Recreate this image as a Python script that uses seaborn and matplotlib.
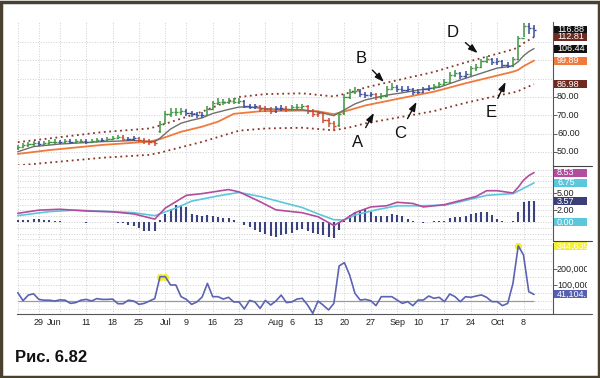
import numpy as np
import pandas as pd
import matplotlib
matplotlib.use("Agg")
import matplotlib.pyplot as plt
import matplotlib.transforms as mtransforms
from matplotlib.patches import Rectangle
from matplotlib.lines import Line2D
import seaborn as sns

# trading days on the chart
holidays = ["2007-05-28", "2007-07-04", "2007-09-03"]
days = pd.bdate_range("2007-05-22", "2007-10-10")
days = days[~days.isin(pd.to_datetime(holidays))]

# price bars
opens = [52.0, 52.8, 53.5, 54.2, 54.9, 54.3, 54.8, 55.2, 55.6, 55.2,
         55.8, 55.4, 55.9, 56.1, 55.5, 56.2, 56.6, 56.3, 57.0, 57.6,
         58.2, 57.2, 57.0, 57.4, 56.6, 55.8, 55.2, 61.5, 66.0, 70.5,
         72.0, 71.6, 72.4, 71.4, 70.8, 70.3, 70.0, 73.6, 76.5, 77.4,
         77.0, 77.8, 77.5, 77.8, 75.2, 74.6, 74.9, 73.2, 73.6, 72.4,
         73.8, 74.2, 73.4, 74.5, 74.8, 75.0, 72.2, 70.6, 71.0, 67.2,
         65.6, 64.5, 71.0, 80.0, 82.8, 83.5, 81.6, 81.0, 81.6, 79.9,
         80.6, 84.6, 85.6, 84.5, 84.0, 84.4, 82.6, 83.0, 84.1, 85.0,
         85.8, 87.1, 88.2, 92.0, 93.0, 91.4, 92.4, 95.6, 96.6, 99.6,
         100.5, 99.0, 99.6, 97.6, 97.2, 101.0, 112.0, 119.0, 117.5]
highs = [54.0, 54.6, 55.4, 56.0, 55.8, 55.9, 56.4, 56.8, 56.5, 56.9,
         56.8, 57.0, 57.3, 57.1, 57.3, 57.8, 57.6, 58.2, 58.9, 59.5,
         59.0, 58.4, 58.6, 58.2, 57.4, 56.8, 56.6, 67.0, 72.2, 74.0,
         73.8, 74.2, 73.6, 72.6, 72.0, 71.8, 75.0, 78.0, 79.2, 78.8,
         79.4, 79.4, 79.6, 78.4, 76.4, 76.2, 75.6, 75.0, 74.4, 75.2,
         75.6, 75.2, 75.8, 76.2, 76.4, 75.6, 73.2, 72.6, 71.6, 68.4,
         67.0, 71.8, 81.4, 84.6, 85.2, 84.4, 82.8, 83.0, 82.4, 82.4,
         85.8, 87.4, 86.6, 85.8, 85.9, 85.0, 84.4, 85.4, 86.4, 87.2,
         88.4, 89.8, 93.4, 94.6, 93.8, 94.0, 97.0, 98.2, 101.0, 102.2,
         101.4, 101.2, 100.4, 99.0, 102.0, 113.4, 120.4, 120.4, 119.6]
lows = [51.0, 52.0, 52.8, 53.4, 53.2, 53.6, 54.0, 54.4, 54.2, 54.5,
        54.3, 54.6, 55.0, 54.5, 54.8, 55.4, 55.2, 55.6, 56.3, 56.9,
        56.2, 55.8, 56.0, 55.4, 54.4, 53.6, 53.0, 60.5, 65.2, 69.2,
        69.8, 70.2, 69.8, 69.2, 68.6, 68.4, 69.4, 72.8, 75.6, 75.6,
        76.0, 76.0, 76.2, 73.8, 73.2, 73.2, 71.6, 71.8, 70.6, 71.4,
        72.6, 71.8, 72.4, 73.4, 73.6, 70.8, 68.8, 69.2, 65.6, 63.6,
        61.2, 63.8, 70.4, 79.0, 81.4, 80.2, 79.6, 79.8, 78.2, 78.8,
        79.8, 83.6, 83.0, 82.6, 82.8, 81.2, 81.4, 82.2, 83.2, 84.0,
        84.8, 86.2, 87.4, 90.8, 89.8, 90.2, 91.6, 94.4, 95.6, 98.4,
        97.4, 97.6, 96.0, 95.6, 96.4, 100.0, 113.0, 114.6, 112.8]
closes = [52.8, 53.6, 54.3, 54.9, 54.3, 54.8, 55.3, 55.6, 55.2, 55.8,
          55.4, 55.9, 56.1, 55.5, 56.2, 56.6, 56.3, 57.0, 57.6, 58.2,
          57.2, 57.0, 57.4, 56.6, 55.8, 55.2, 54.9, 65.5, 70.5, 72.0,
          71.6, 72.4, 71.4, 70.8, 70.3, 70.0, 73.6, 76.5, 77.4, 77.0,
          77.8, 77.5, 77.8, 75.2, 74.6, 74.9, 73.2, 73.6, 72.4, 73.8,
          74.2, 73.4, 74.5, 74.8, 75.0, 72.2, 70.6, 71.0, 67.2, 65.6,
          64.2, 70.6, 80.0, 82.8, 83.5, 81.6, 81.0, 81.6, 79.9, 80.6,
          84.6, 85.6, 84.5, 84.0, 84.4, 82.6, 83.0, 84.1, 85.0, 85.8,
          87.1, 88.2, 92.0, 93.0, 91.4, 92.4, 95.6, 96.6, 99.6, 100.5,
          99.0, 99.6, 97.6, 97.2, 100.6, 112.0, 119.0, 117.5, 116.88]
bar_kind = ("ggggbgggbg" "bggbggbggg" "rbbrrrrggg" "ggbbbbgggg" "gggbbbrrrb"
            "brgggrrrrr" "rggggbbbrg" "ggbbbbbbbg" "ggggbbgggg" "bbbbgggbb")

# moving averages and envelope, read at sample days
fast_idx = [0, 3, 8, 16, 22, 26, 27, 29, 31, 33, 35, 37, 40, 42, 44, 47, 50, 54, 57,
            60, 62, 64, 66, 70, 73, 76, 80, 84, 88, 91, 93, 94, 95, 96, 97, 98]
fast_ema = [50.1, 52.9, 54.3, 55.6, 56.2, 55.6, 57.5, 62.5, 65.7, 67.3, 68.6, 71.0,
            73.2, 74.5, 74.6, 73.6, 73.2, 73.0, 71.8, 69.8, 73.0, 76.2, 78.4, 81.0,
            82.3, 83.8, 85.3, 89.3, 93.0, 95.8, 96.5, 97.2, 99.3, 102.5, 104.8, 106.44]
slow_idx = [0, 6, 16, 25, 27, 31, 35, 38, 41, 46, 54, 57, 60, 63, 66, 73, 79, 85,
            92, 94, 95, 96, 98]
slow_ema = [48.9, 51.0, 53.8, 55.6, 57.0, 61.0, 63.8, 66.5, 70.8, 72.2, 72.6, 72.2,
            70.6, 72.9, 75.4, 79.5, 82.9, 87.5, 92.4, 93.8, 94.8, 96.8, 99.89]
env_idx = [0, 16, 25, 27, 35, 42, 47, 54, 60, 63, 66, 73, 79, 85, 92, 94, 95, 96, 98]
env_upper = [55.3, 60.8, 62.8, 64.4, 72.0, 80.0, 81.6, 82.0, 80.3, 82.4, 85.2, 89.8,
             93.7, 98.9, 104.4, 106.0, 107.1, 109.4, 112.81]
env_lower = [42.6, 46.8, 48.4, 49.6, 55.5, 61.6, 62.8, 63.2, 61.8, 63.4, 65.6, 69.2,
             72.3, 76.8, 81.3, 82.4, 83.2, 84.6, 86.98]

# MACD
macd_idx = [0, 4, 8, 13, 18, 22, 26, 28, 32, 35, 40, 42, 46, 49, 54, 57, 60, 62,
            64, 67, 70, 72, 75, 77, 81, 84, 87, 89, 91, 94, 95, 96, 97, 98]
macd_line = [1.5, 2.05, 2.2, 1.9, 1.75, 1.4, 0.5, 2.4, 4.6, 4.9, 5.6, 5.2, 3.5, 2.1,
             1.6, 0.9, -0.6, 0.4, 1.6, 2.6, 2.8, 3.4, 3.2, 2.6, 3.0, 3.7, 4.4, 5.4,
             5.4, 5.0, 6.0, 7.2, 8.0, 8.53]
signal_idx = [0, 6, 11, 18, 22, 26, 30, 33, 38, 42, 46, 51, 54, 57, 60, 62, 64, 68,
              72, 76, 81, 84, 89, 94, 96, 98]
signal_line = [1.1, 1.8, 2.05, 1.8, 1.6, 1.1, 2.4, 3.6, 4.5, 5.1, 4.4, 3.2, 2.5, 1.4,
               0.4, 0.35, 1.2, 2.1, 2.8, 2.8, 2.9, 3.5, 4.6, 4.9, 5.8, 6.75]
macd_hist = [0.3, 0.3, 0.4, 0.6, 0.5, 0.4, 0.3, 0.2, 0.1, 0.05,
             -0.05, 0.05, -0.05, -0.1, -0.05, 0.05, 0.05, 0.05, 0.0, -0.1,
             -0.2, -0.45, -0.75, -1.1, -1.5, -1.5, -1.5, 0.3, 1.45, 2.3,
             2.9, 2.9, 2.6, 1.45, 1.15, 1.0, 1.25, 1.0, 0.9, 0.75,
             0.75, 0.3, 0.0, -0.5, -0.9, -1.3, -1.7, -2.1, -2.4, -2.6,
             -2.2, -2.0, -1.9, -1.4, -1.2, -1.6, -1.9, -2.1, -2.3, -2.6,
             -2.8, -1.4, 0.2, 1.2, 1.8, 2.0, 2.2, 1.8, 1.0, 1.0,
             1.1, 1.3, 1.2, 1.0, 0.6, 0.1, -0.05, -0.25, 0.05, 0.1,
             0.1, 0.2, 0.7, 0.8, 0.9, 1.1, 1.3, 1.6, 1.8, 1.7,
             1.2, 0.5, 0.1, 0.05, 0.1, 1.7, 3.4, 3.57, 3.57]

# force index, thousands
force = [52, 2, 37, 45, 10, 5, 5, 0, 7, 5,
         -15, -10, 5, 10, 0, 15, 10, 10, 12, -17,
         -17, 5, 0, -21, -15, 0, 15, 152, 152, 100,
         100, 27, 10, -21, -6, 25, 110, 27, 27, 12,
         23, -6, -6, -50, 4, -6, -46, 4, -25, 0,
         37, -10, -6, 12, 17, -25, -77, 0, -27, -56,
         -15, 219, 240, 162, 48, 6, 10, 2, -29, 27,
         27, 27, 6, -15, -4, -29, 6, 6, 31, 17,
         23, -4, 44, 27, -4, 27, 23, 31, 38, 23,
         -4, -4, -29, -15, 110, 344.639, 288, 58, 41.104]
force_marks = [27, 28, 95]

tick_dates = ["2007-05-29", "2007-06-01", "2007-06-11", "2007-06-18", "2007-06-25",
              "2007-07-02", "2007-07-09", "2007-07-16", "2007-07-23", "2007-08-01",
              "2007-08-06", "2007-08-13", "2007-08-20", "2007-08-27", "2007-09-04",
              "2007-09-10", "2007-09-17", "2007-09-24", "2007-10-01", "2007-10-08"]
tick_text = ["29", "Jun", "11", "18", "25", "Jul", "9", "16", "23", "Aug",
             "6", "13", "20", "27", "Sep", "10", "17", "24", "Oct", "8"]

sns.set_style("white")
plt.rcParams["font.family"] = ["Liberation Sans", "DejaVu Sans"]

W, H = 600, 378
fig = plt.figure(figsize=(6, 3.78), dpi=100)
fig.patch.set_facecolor("white")

def fbox(x0, y0, x1, y1):
    return [x0 / W, 1 - y1 / H, (x1 - x0) / W, (y1 - y0) / H]

ax_p = fig.add_axes(fbox(17, 22, 553, 165))
ax_m = fig.add_axes(fbox(17, 166, 553, 240), sharex=ax_p)
ax_f = fig.add_axes(fbox(17, 243, 553, 314), sharex=ax_p)

idx = np.arange(len(days))
week_idx = pd.Series(idx, index=days).groupby(days.to_period("W")).first().values
lab_idx = days.get_indexer(pd.to_datetime(tick_dates))

GREEN, BLUE, RED = "#3d9440", "#3b4d9e", "#cf4a2e"
kind_col = {"g": GREEN, "b": BLUE, "r": RED}
cols = [kind_col[k] for k in bar_kind]

# price panel
ax_p.vlines(idx, lows, highs, colors=cols, lw=1.1, zorder=3)
ax_p.hlines(opens, idx - 0.42, idx, colors=cols, lw=1.0, zorder=3)
ax_p.hlines(closes, idx, idx + 0.42, colors=cols, lw=1.0, zorder=3)
dots = (0, (1.0, 2.0))
sns.lineplot(x=env_idx, y=env_upper, ax=ax_p, color="#8c3426", lw=1.3, linestyle=dots)
sns.lineplot(x=env_idx, y=env_lower, ax=ax_p, color="#8c3426", lw=1.3, linestyle=dots)
sns.lineplot(x=slow_idx, y=slow_ema, ax=ax_p, color="#f07a3c", lw=1.3)
sns.lineplot(x=fast_idx, y=fast_ema, ax=ax_p, color="#6e6e6e", lw=1.0)
ax_p.set_ylim(42.84, 120.98)
ax_p.set_yticks([50, 60, 70, 80])
ax_p.set_yticks([90, 100, 110], minor=True)

# MACD panel
ax_m.vlines(idx, 0, macd_hist, colors="#3a4282", lw=1.5)
sns.lineplot(x=signal_idx, y=signal_line, ax=ax_m, color="#5cc6dc", lw=1.2)
sns.lineplot(x=macd_idx, y=macd_line, ax=ax_m, color="#b24c9e", lw=1.2)
ax_m.set_ylim(-3.1, 9.66)
ax_m.set_yticks([2, 5])
ax_m.set_yticks([-3, -2, -1, 0, 1, 3, 4, 6, 7, 8, 9], minor=True)

# force index panel
force_v = np.array(force) * 1000
ax_f.hlines(0, 0, len(days) - 1, colors="#9a9a9a", lw=0.9)
ax_f.scatter(idx[force_marks], force_v[force_marks], s=28, color="#f2ee3a", zorder=2, lw=0)
sns.lineplot(x=idx, y=force_v, ax=ax_f, color="#5b63b2", lw=1.2, zorder=3)
ax_f.set_ylim(-81250, 362500)
ax_f.set_yticks([100000, 200000])
ax_f.set_yticks([-50000, 0, 50000, 150000, 250000, 300000, 350000], minor=True)

for ax in (ax_p, ax_m, ax_f):
    ax.set_facecolor("white")
    for s in ("top", "left", "bottom"):
        ax.spines[s].set_visible(False)
    ax.spines["right"].set_color("#555555")
    ax.spines["right"].set_linewidth(0.8)
    ax.yaxis.tick_right()
    ax.tick_params(axis="y", which="major", length=3, width=0.6, color="#444444",
                   labelright=False, labelleft=False)
    ax.tick_params(axis="y", which="minor", length=0)
    ax.set_xticks(week_idx)
    ax.grid(True, axis="x", which="major", color="#cfcfcf", ls=":", lw=0.7)
    ax.grid(True, axis="y", which="both", color="#cfcfcf", ls=":", lw=0.7)
    ax.set_xlabel("")
    ax.set_ylabel("")
    ax.tick_params(axis="x", which="both", labelbottom=False, length=0)

ax_p.set_xlim(-0.15, 101.6)
ax_f.spines["bottom"].set_visible(True)
ax_f.spines["bottom"].set_color("#555555")
ax_f.spines["bottom"].set_linewidth(0.8)
ax_f.xaxis.remove_overlapping_locs = False
ax_f.set_xticks(lab_idx, minor=True)
ax_f.set_xticklabels(tick_text, minor=True)
ax_f.tick_params(axis="x", which="major", length=3, width=0.6, color="#444444")
ax_f.tick_params(axis="x", which="minor", length=0, pad=3, labelbottom=True,
                 labelsize=6.5, labelcolor="#222222")

# right-hand labels and value boxes
clip = mtransforms.TransformedBbox(mtransforms.Bbox([[0, 0], [587 / W, 1]]), fig.transFigure)

def side_text(ax, y, text, face=None, tcolor="#222222"):
    trans = mtransforms.blended_transform_factory(fig.transFigure, ax.transData)
    if face is not None:
        y0, y1 = ax.get_ylim()
        h = 8 * (y1 - y0) / (ax.get_position().height * H)
        ax.add_patch(Rectangle((554 / W, y - h / 2), 33 / W, h, transform=trans,
                               facecolor=face, edgecolor="none", clip_on=False, zorder=5))
    t = ax.text(557 / W, y, text, transform=trans, color=tcolor, fontsize=6.5,
                va="center", ha="left", zorder=6)
    t.set_clip_box(clip)
    t.set_clip_on(True)

for v in [50, 60, 70, 80]:
    side_text(ax_p, v, f"{v:.2f}")
side_text(ax_p, closes[-1], f"{closes[-1]:.2f}", "#111111", "white")
side_text(ax_p, env_upper[-1], f"{env_upper[-1]:.2f}", "#6e2a20", "white")
side_text(ax_p, fast_ema[-1], f"{fast_ema[-1]:.2f}", "#111111", "white")
side_text(ax_p, slow_ema[-1], f"{slow_ema[-1]:.2f}", "#f07a3c", "white")
side_text(ax_p, env_lower[-1], f"{env_lower[-1]:.2f}", "#6e2a20", "white")

for v in [2, 5]:
    side_text(ax_m, v, f"{v:.2f}")
side_text(ax_m, macd_line[-1], f"{macd_line[-1]:.2f}", "#b24c9e", "white")
side_text(ax_m, signal_line[-1], f"{signal_line[-1]:.2f}", "#5cc6dc", "white")
side_text(ax_m, macd_hist[-1], f"{macd_hist[-1]:.2f}", "#3a3f78", "white")
side_text(ax_m, 0, "0.00", "#5cc6dc", "white")

for v in [100000, 200000]:
    side_text(ax_f, v, f"{v:,}")
side_text(ax_f, force_v.max(), f"{force_v.max():,.0f}", "#f2ee3a", "white")
side_text(ax_f, force_v[-1], f"{force_v[-1]:,.0f}.", "#5660b0", "white")

for yy in (166, 241):
    fig.add_artist(Line2D([553 / W, 592 / W], [1 - yy / H] * 2, color="#444444", lw=0.8))
fig.add_artist(Line2D([553 / W, 592 / W], [1 - 314 / H] * 2, color="#555555", lw=0.8))

# letters with arrows
notes = [("A", (64.5, 55.4), (67.6, 71.3)),
         ("B", (65.1, 101.3), (69.5, 88.2)),
         ("C", (72.5, 60.3), (75.7, 77.3)),
         ("D", (82.6, 115.5), (87.3, 104.0)),
         ("E", (89.8, 71.3), (92.6, 88.2))]
for letter, txt_xy, tip_xy in notes:
    ax_p.annotate(letter, xy=tip_xy, xytext=txt_xy, fontsize=12, color="#111111",
                  ha="center", va="center", zorder=7,
                  arrowprops=dict(arrowstyle="-|>,head_length=0.45,head_width=0.16",
                                  color="#111111", lw=1.0, shrinkA=3, shrinkB=0))

fig.text(15 / W, 1 - 358 / H, "Рис. 6.82", fontsize=12, fontweight="bold",
         va="center", ha="left", color="#111111")
fig.add_artist(Rectangle((0.002, 0.003), 0.996, 0.993, transform=fig.transFigure,
                         fill=False, edgecolor="#4a4030", lw=2.5))

fig.savefig("out.png", dpi=100)
